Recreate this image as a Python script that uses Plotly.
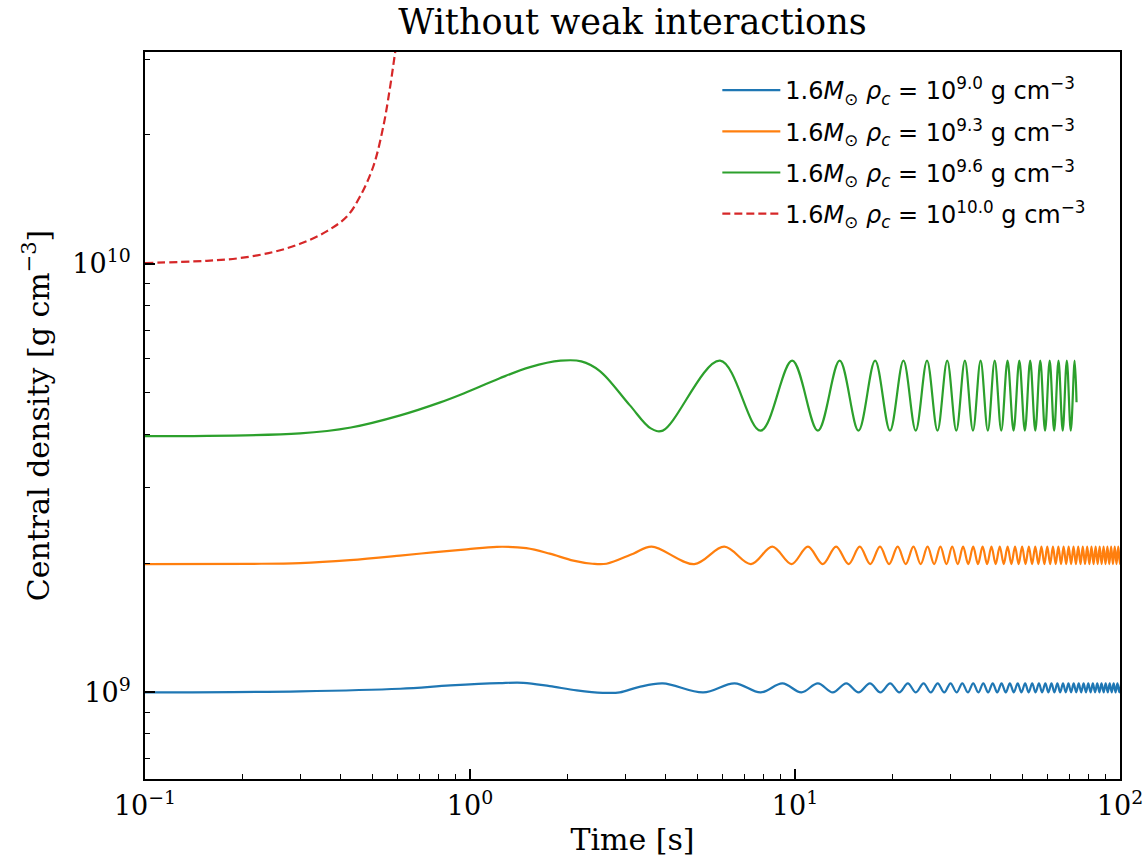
import plotly.graph_objects as go

# ---------------- data ----------------
# blue: 1.6 Msun, rho_c = 1e9
blue_early_t = [0.1, 0.3, 0.61, 0.87, 1.23, 1.46, 1.76, 2.13, 2.56, 2.89, 3.3]
blue_early_v = [1.0e9, 1.006e9, 1.02e9, 1.038e9, 1.051e9, 1.053e9, 1.034e9, 1.011e9, 0.998e9, 1.0e9, 1.029e9]
blue_peak_t = [3.92, 6.52, 9.15, 11.76, 14.38, 17.0, 19.62, 22.24, 24.86, 27.48, 30.1, 32.72,
               35.34, 37.96, 40.58, 43.2, 45.82, 48.44, 51.06, 53.68, 56.3, 58.92, 61.54, 64.16,
               66.78, 69.4, 72.02, 74.64, 77.26, 79.88, 82.5, 85.12, 87.74, 90.36, 92.98, 95.6,
               98.22, 100.84]
blue_trough_t = [5.22, 7.84, 10.46, 13.07, 15.69, 18.31, 20.93, 23.55, 26.17, 28.79, 31.41,
                 34.03, 36.65, 39.27, 41.89, 44.51, 47.13, 49.75, 52.37, 54.99, 57.61, 60.23,
                 62.85, 65.47, 68.09, 70.71, 73.33, 75.95, 78.57, 81.19, 83.81, 86.43, 89.05,
                 91.67, 94.29, 96.91, 99.53]
blue_peak_v = 1.05e9
blue_trough_v = 1.0e9

# orange: rho_c = 10^9.3
orange_early_t = [0.1, 0.21, 0.3, 0.427, 0.609, 0.768, 0.976, 1.21, 1.49, 1.76, 2.08, 2.38, 2.63, 3.18]
orange_early_v = [1.993e9, 1.995e9, 2.003e9, 2.035e9, 2.085e9, 2.122e9, 2.157e9, 2.186e9, 2.17e9,
                  2.107e9, 2.03e9, 1.996e9, 1.996e9, 2.107e9]
orange_peak_t = [3.62, 6.06, 8.52, 10.96, 13.38, 15.82, 18.26, 20.70, 23.14, 25.58, 28.02, 30.46,
                 32.90, 35.34, 37.78, 40.22, 42.66, 45.10, 47.54, 49.98, 52.42, 54.86, 57.30,
                 59.74, 62.18, 64.62, 67.06, 69.50, 71.94, 74.38, 76.82, 79.26, 81.70, 84.14,
                 86.58, 89.02, 91.46, 93.90, 96.34, 98.78, 101.22]
orange_trough_t = [4.90, 7.32, 9.76, 12.18, 14.62, 17.04, 19.48, 21.92, 24.36, 26.80, 29.24,
                   31.68, 34.12, 36.56, 39.00, 41.44, 43.88, 46.32, 48.76, 51.20, 53.64, 56.08,
                   58.52, 60.96, 63.40, 65.84, 68.28, 70.72, 73.16, 75.60, 78.04, 80.48, 82.92,
                   85.36, 87.80, 90.24, 92.68, 95.12, 97.56, 100.00]
orange_peak_v = 2.188e9
orange_trough_v = 1.993e9

# green: rho_c = 10^9.6
green_early_t = [0.1, 0.3, 0.43, 0.61, 0.81, 0.96, 1.23, 1.53, 1.9, 2.2, 2.51, 3.1, 3.6]
green_early_v = [3.96e9, 4.02e9, 4.15e9, 4.43e9, 4.75e9, 4.99e9, 5.40e9, 5.74e9, 5.94e9,
                 5.92e9, 5.62e9, 4.68e9, 4.13e9]
green_peak_t = [5.88, 9.80, 13.72, 17.64, 21.56, 25.48, 29.40, 33.32, 37.24, 41.16, 45.08,
                49.00, 52.92, 56.84, 60.76, 64.68, 68.60, 72.52]
green_trough_t = [3.92, 7.84, 11.76, 15.68, 19.60, 23.52, 27.44, 31.36, 35.28, 39.20, 43.12,
                  47.04, 50.96, 54.88, 58.80, 62.72, 66.64, 70.56]
green_peak_v = 5.94e9
green_trough_v = 4.08e9
green_end_t = [73.5]
green_end_v = [4.75e9]

# red (dashed): rho_c = 1e10, collapses
red_t = [0.1, 0.155, 0.196, 0.248, 0.300, 0.362, 0.418, 0.459, 0.504, 0.541, 0.568, 0.588, 0.61]
red_v = [1.004e10, 1.016e10, 1.031e10, 1.065e10, 1.113e10, 1.19e10, 1.289e10, 1.436e10,
         1.686e10, 2.09e10, 2.59e10, 3.10e10, 3.7e10]

labels = [
    "1.6<i>M</i><sub>⊙</sub> <i>ρ</i><sub><i>c</i></sub> = 10<sup>9.0</sup> g cm<sup>−3</sup>",
    "1.6<i>M</i><sub>⊙</sub> <i>ρ</i><sub><i>c</i></sub> = 10<sup>9.3</sup> g cm<sup>−3</sup>",
    "1.6<i>M</i><sub>⊙</sub> <i>ρ</i><sub><i>c</i></sub> = 10<sup>9.6</sup> g cm<sup>−3</sup>",
    "1.6<i>M</i><sub>⊙</sub> <i>ρ</i><sub><i>c</i></sub> = 10<sup>10.0</sup> g cm<sup>−3</sup>",
]
colors = ["#1f77b4", "#ff7f0e", "#2ca02c", "#d62728"]

x_tick_vals = [0.1, 1, 10, 100]
x_tick_text = ["10<sup>−1</sup>", "10<sup>0</sup>", "10<sup>1</sup>", "10<sup>2</sup>"]
y_tick_vals = [1e9, 1e10]
y_tick_text = ["10<sup>9</sup>", "10<sup>10</sup>"]


def build(early_t, early_v, peak_t, peak_v, trough_t, trough_v, end_t=(), end_v=()):
    pts = list(zip(early_t, early_v))
    pts += [(t, peak_v) for t in peak_t]
    pts += [(t, trough_v) for t in trough_t]
    pts += list(zip(end_t, end_v))
    pts.sort(key=lambda p: p[0])
    return [p[0] for p in pts], [p[1] for p in pts]


series = [
    build(blue_early_t, blue_early_v, blue_peak_t, blue_peak_v, blue_trough_t, blue_trough_v),
    build(orange_early_t, orange_early_v, orange_peak_t, orange_peak_v, orange_trough_t, orange_trough_v),
    build(green_early_t, green_early_v, green_peak_t, green_peak_v, green_trough_t, green_trough_v,
          green_end_t, green_end_v),
    (red_t, red_v),
]

fig = go.Figure()
for i, (xs, ys) in enumerate(series):
    fig.add_trace(go.Scatter(
        x=xs, y=ys, mode="lines", name=labels[i], legendgroup=str(i),
        line=dict(color=colors[i], width=2.2, shape="spline", smoothing=1.0,
                  dash="8px,4px" if i == 3 else "solid"),
    ))

x_minor = [k * 10.0 ** e for e in (-1, 0, 1) for k in range(2, 10)]
y_minor = [7e8, 8e8, 9e8] + [k * 1e9 for k in range(2, 10)] + [2e10, 3e10]

axis_common = dict(
    showgrid=False, zeroline=False, showline=True, linecolor="black", linewidth=1.8,
    mirror=True, ticks="inside", ticklen=10, tickwidth=1.5, tickcolor="black",
    tickfont=dict(family="DejaVu Serif", size=27, color="black"),
)

fig.update_xaxes(
    type="log", range=[-1, 2], tickmode="array", tickvals=x_tick_vals, ticktext=x_tick_text,
    title=dict(text="Time [s]", font=dict(family="DejaVu Serif", size=30, color="black"), standoff=12),
    minor=dict(tickmode="array", tickvals=x_minor, ticks="inside", ticklen=5, tickwidth=1.2,
               tickcolor="black", showgrid=False),
    ticklabelstandoff=2,
    **axis_common,
)
fig.update_yaxes(
    type="log", range=[8.798, 10.494], tickmode="array", tickvals=y_tick_vals, ticktext=y_tick_text,
    title=dict(text="Central density [g cm<sup>−3</sup>]",
               font=dict(family="DejaVu Serif", size=30, color="black"), standoff=14),
    minor=dict(tickmode="array", tickvals=y_minor, ticks="inside", ticklen=5, tickwidth=1.2,
               tickcolor="black", showgrid=False),
    ticklabelstandoff=7,
    **axis_common,
)

fig.update_layout(
    width=1146, height=857,
    margin=dict(l=145, r=26, t=52, b=78, autoexpand=False),
    plot_bgcolor="white", paper_bgcolor="white",
    title=dict(text="Without weak interactions", x=0.5, xref="paper", xanchor="center",
               y=1 - 22 / 857, yref="container", yanchor="middle",
               font=dict(family="DejaVu Serif", size=35, color="black")),
    legend=dict(x=0.587, y=0.978, xanchor="left", yanchor="top", bgcolor="rgba(0,0,0,0)",
                borderwidth=0, font=dict(family="DejaVu Sans", size=24, color="black"),
                tracegroupgap=7, itemwidth=58),
    showlegend=True,
)

fig.write_html("out.html")
